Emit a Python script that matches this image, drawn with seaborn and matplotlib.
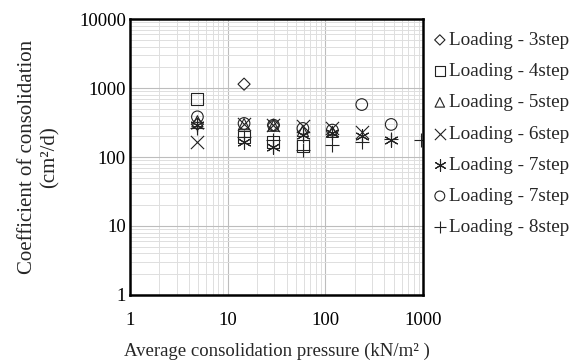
import matplotlib
matplotlib.use("Agg")
import matplotlib.pyplot as plt
import seaborn as sns
import pandas as pd
from matplotlib.ticker import FuncFormatter, LogLocator, NullFormatter

# Average consolidation pressures (kN/m2)
pressure = [4.9, 14.7, 29.4, 58.8, 117.6, 235.2, 470.4, 940.8]

labels = ["Loading - 3step", "Loading - 4step", "Loading - 5step", "Loading - 6step",
          "Loading - 7step", "Loading - 7step ", "Loading - 8step"]

cv_3step = [300, 1140, 290]
cv_4step = [686, 196, 167, 145]
cv_5step = [330, 300, 285, 240, 232]
cv_6step = [167, 300, 290, 280, 260, 232]
cv_7step_a = [291, 167, 140, 208, 222, 202, 177]
cv_7step_b = [383, 307, 290, 260, 246, 577, 297]
cv_8step = [262, 196, 177, 126, 149, 166, 180, 177]

series = [cv_3step, cv_4step, cv_5step, cv_6step, cv_7step_a, cv_7step_b, cv_8step]
markers = ["D", "s", "^", "x", (6, 2, 0), "o", "+"]
sizes = [38, 75, 65, 90, 95, 70, 110]

sns.set_theme(style="white")
plt.rcParams["font.family"] = ["Liberation Serif", "DejaVu Serif"]

fig = plt.figure(figsize=(5.75, 3.61), dpi=100)
ax = fig.add_axes([0.226, 0.183, 0.510, 0.764])

for lab, vals, m, s in zip(labels, series, markers, sizes):
    df = pd.DataFrame({"p": pressure[:len(vals)], "cv": vals})
    filled = m in ("D", "s", "^", "o")
    if filled:
        sns.scatterplot(data=df, x="p", y="cv", marker=m, s=s, ax=ax,
                        facecolors="none", edgecolor="#222222", linewidth=0.8, label=lab)
    else:
        sns.scatterplot(data=df, x="p", y="cv", marker=m, s=s, ax=ax,
                        color="#222222", linewidth=0.8, label=lab)

ax.set_xscale("log")
ax.set_yscale("log")
ax.set_xlim(1, 1000)
ax.set_ylim(1, 10000)

fmt = FuncFormatter(lambda v, pos: f"{int(round(v))}")
ax.xaxis.set_major_locator(LogLocator(base=10, numticks=10))
ax.yaxis.set_major_locator(LogLocator(base=10, numticks=10))
ax.xaxis.set_minor_locator(LogLocator(base=10, subs=range(2, 10), numticks=20))
ax.yaxis.set_minor_locator(LogLocator(base=10, subs=range(2, 10), numticks=20))
ax.xaxis.set_major_formatter(fmt)
ax.yaxis.set_major_formatter(fmt)
ax.xaxis.set_minor_formatter(NullFormatter())
ax.yaxis.set_minor_formatter(NullFormatter())

ax.grid(True, which="major", color="#bdbdbd", linewidth=0.8)
ax.grid(True, which="minor", color="#dedede", linewidth=0.7)
ax.set_axisbelow(True)

for sp in ax.spines.values():
    sp.set_color("black")
    sp.set_linewidth(1.8)

ax.tick_params(axis="x", which="major", labelsize=13.5, length=0, pad=12, colors="black")
ax.tick_params(axis="y", which="major", labelsize=13.5, length=5, direction="in",
               width=1, pad=3, colors="black")

ax.set_xlabel("Average consolidation pressure (kN/m² )", fontsize=13.5, labelpad=10)
ax.set_ylabel("Coefficient of consolidation\n(cm²/d)", fontsize=15, labelpad=14,
              linespacing=1.25)

leg = ax.legend(loc="upper left", bbox_to_anchor=(1.024, 0.955), frameon=False,
                fontsize=13.8, handletextpad=0.0, labelspacing=0.72,
                borderaxespad=0.0, borderpad=0.0, handlelength=1.0, markerscale=0.85)

fig.savefig("out.png", dpi=100)
